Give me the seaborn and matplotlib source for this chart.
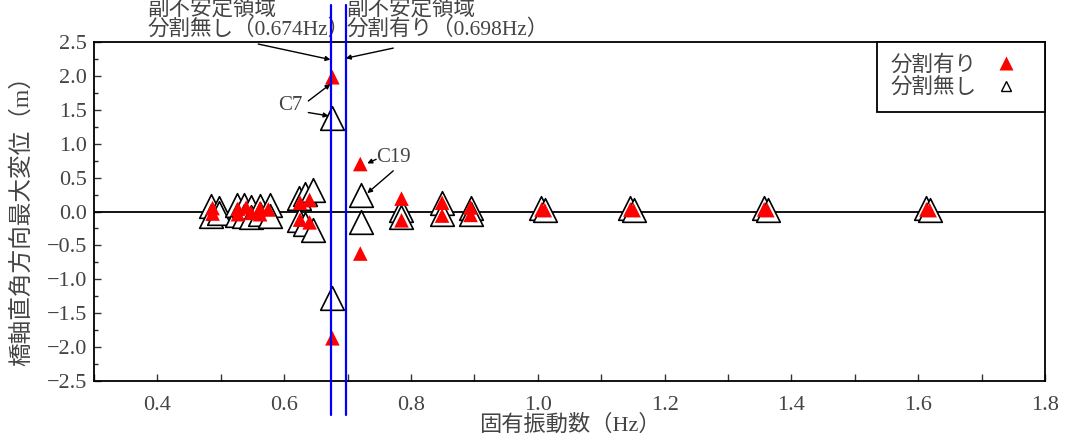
import matplotlib
matplotlib.use('Agg')
import matplotlib.pyplot as plt
from matplotlib.ticker import MultipleLocator, FuncFormatter
from matplotlib.lines import Line2D
import seaborn as sns

# 分割有り (red filled triangles)
freq_split = [0.487, 0.487, 0.527, 0.527, 0.540, 0.548, 0.562, 0.562, 0.575,
              0.625, 0.625, 0.640, 0.640,
              0.676, 0.676, 0.720, 0.720, 0.785, 0.785, 0.849, 0.849, 0.894, 0.894,
              1.006, 1.011, 1.146, 1.151, 1.357, 1.362, 1.613, 1.618]
disp_split = [0.05, -0.03, 0.04, -0.04, 0.06, -0.02, 0.05, -0.04, 0.03,
              0.13, -0.12, 0.17, -0.16,
              1.98, -1.87, 0.70, -0.62, 0.19, -0.13, 0.13, -0.06, 0.06, -0.05,
              0.03, 0.02, 0.03, 0.02, 0.03, 0.02, 0.03, 0.02]

# 分割無し (open triangles)
freq_nosplit = [0.485, 0.485, 0.497, 0.497, 0.525, 0.525, 0.537, 0.537, 0.548, 0.548,
                0.562, 0.562, 0.577, 0.577,
                0.624, 0.624, 0.633, 0.633, 0.645, 0.645,
                0.676, 0.676, 0.721, 0.721, 0.785, 0.785, 0.849, 0.849, 0.894, 0.894,
                1.005, 1.012, 1.145, 1.152, 1.356, 1.363, 1.612, 1.619]
disp_nosplit = [0.08, -0.06, 0.05, -0.02, 0.09, -0.05, 0.10, -0.07, 0.07, -0.08,
                0.08, -0.04, 0.09, -0.06,
                0.20, -0.12, 0.26, -0.18, 0.31, -0.27,
                1.38, -1.28, 0.25, -0.16, 0.02, -0.08, 0.12, -0.03, 0.05, -0.04,
                0.05, 0.02, 0.05, 0.02, 0.05, 0.02, 0.05, 0.02]

unstable_freqs = [0.674, 0.698]
unstable_texts = ['副不安定領域\n分割無し（0.674Hz）', '副不安定領域\n分割有り（0.698Hz）']
legend_labels = ['分割有り', '分割無し']

sns.set_style('ticks')
plt.rcParams['font.family'] = ['Liberation Serif', 'Noto Sans CJK JP']
plt.rcParams['axes.unicode_minus'] = True

fig = plt.figure(figsize=(10.67, 4.38), dpi=100)
ax = fig.add_axes([0.0881, 0.1301, 0.8913, 0.774])

ax.axhline(0, color='black', lw=1.3, zorder=1)

sns.scatterplot(x=freq_nosplit, y=disp_nosplit, marker='^', s=290, color='white',
                edgecolor='black', linewidth=1.2, zorder=2, ax=ax)
sns.scatterplot(x=freq_split, y=disp_split, marker='^', s=110, color='red',
                edgecolor='none', linewidth=0, zorder=3, ax=ax)

for f in unstable_freqs:
    ax.plot([f, f], [-3.0, 3.05], color='#0000ff', lw=1.6, zorder=5, clip_on=False)

ax.set_xlim(0.3, 1.8)
ax.set_ylim(-2.5, 2.5)

def fmt(v, pos):
    if abs(v) < 1e-9:
        v = 0.0
    return f'{v:.1f}'.replace('-', '\u2212')

ax.xaxis.set_major_locator(MultipleLocator(0.2))
ax.xaxis.set_minor_locator(MultipleLocator(0.1))
ax.yaxis.set_major_locator(MultipleLocator(0.5))
ax.yaxis.set_minor_locator(MultipleLocator(0.25))
ax.xaxis.set_major_formatter(FuncFormatter(fmt))
ax.yaxis.set_major_formatter(FuncFormatter(fmt))
ax.tick_params(axis='x', which='both', direction='in', length=5, width=1,
               labelsize=16, pad=11, colors='#333333', labelcolor='#444444')
ax.tick_params(axis='y', which='major', direction='in', length=5, width=1,
               labelsize=16, pad=5, colors='#333333', labelcolor='#444444')
ax.tick_params(axis='y', which='minor', direction='in', length=3, width=1)
for sp in ax.spines.values():
    sp.set_color('black')
    sp.set_linewidth(1.3)

ax.set_xlabel('固有振動数（Hz）', fontsize=16, color='#444444', va='top')
ax.xaxis.set_label_coords(0.5, -0.1)
ax.set_ylabel('橋軸直角方向最大変位（m）', fontsize=17, color='#444444')
ax.yaxis.set_label_coords(-0.064, 0.49)

# region annotations above the plot
ax.text(0.385, 2.53, unstable_texts[0], fontsize=15.5, color='#444444',
        ha='left', va='bottom', linespacing=1.0, clip_on=False)
ax.text(0.699, 2.53, unstable_texts[1], fontsize=15.5, color='#444444',
        ha='left', va='bottom', linespacing=1.0, clip_on=False)
arrow = dict(arrowstyle='-|>', color='black', lw=1, mutation_scale=7,
             shrinkA=0, shrinkB=0)
ax.annotate('', xy=(0.673, 2.24), xytext=(0.559, 2.47), arrowprops=arrow)
ax.annotate('', xy=(0.697, 2.26), xytext=(0.772, 2.41), arrowprops=arrow)

# case labels
ax.text(0.61, 1.56, 'C7', fontsize=15, color='#444444', ha='center', va='center')
ax.annotate('', xy=(0.673, 1.88), xytext=(0.638, 1.63), arrowprops=arrow)
ax.annotate('', xy=(0.670, 1.41), xytext=(0.638, 1.46), arrowprops=arrow)
ax.text(0.772, 0.79, 'C19', fontsize=15, color='#444444', ha='center', va='center')
ax.annotate('', xy=(0.731, 0.71), xytext=(0.745, 0.77), arrowprops=arrow)
ax.annotate('', xy=(0.731, 0.27), xytext=(0.772, 0.60), arrowprops=arrow)

handles = [Line2D([], [], ls='none', marker='^', ms=10, color='red', mec='none'),
           Line2D([], [], ls='none', marker='^', ms=7, mfc='white', mec='black', mew=1)]
leg = ax.legend(handles, legend_labels, loc='upper right', markerfirst=False,
                frameon=True, fancybox=False, borderaxespad=0, fontsize=15.5,
                handlelength=2.4, handletextpad=0.2, borderpad=0.6, labelspacing=0.15)
leg.get_frame().set_edgecolor('black')
leg.get_frame().set_linewidth(1.3)
leg.get_frame().set_alpha(1)
for t in leg.get_texts():
    t.set_color('#444444')

fig.savefig('out.png', dpi=100)
plt.close(fig)
